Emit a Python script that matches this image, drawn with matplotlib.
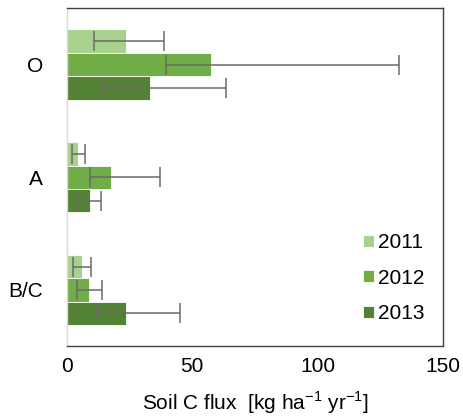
import numpy as np
import matplotlib
matplotlib.use("Agg")
import matplotlib.pyplot as plt

plt.rcParams['font.family'] = ['Liberation Sans', 'DejaVu Sans']
plt.rcParams['mathtext.fontset'] = 'custom'
plt.rcParams['mathtext.rm'] = 'Liberation Sans'

# horizons, top to bottom
horizons = ['O', 'A', 'B/C']
years = ['2011', '2012', '2013']
colors = ['#A9D18E', '#70AD47', '#548235']

# mean flux per year for O, A, B/C
flux = {
    '2011': [23.5, 4.6, 6.0],
    '2012': [57.4, 17.6, 8.8],
    '2013': [33.0, 9.2, 23.6],
}
# error bar ends (low, high)
err_low = {
    '2011': [10.7, 2.3, 2.5],
    '2012': [39.7, 9.4, 4.1],
    '2013': [14.3, 4.9, 12.1],
}
err_high = {
    '2011': [38.7, 7.3, 9.5],
    '2012': [132.2, 37.0, 13.9],
    '2013': [63.5, 13.5, 45.2],
}

fig = plt.figure(figsize=(4.63, 4.18), dpi=100)
ax = fig.add_axes([66.7 / 463, 1 - 346.3 / 418, 376.6 / 463, 338 / 418])

bh = 0.208
y = np.arange(len(horizons))
for i, yr in enumerate(years):
    vals = np.array(flux[yr])
    lo = vals - np.array(err_low[yr])
    hi = np.array(err_high[yr]) - vals
    ax.barh(y + (i - 1) * bh, vals, height=bh, color=colors[i],
            edgecolor='white', linewidth=0.6, label=yr, zorder=2)
    ax.errorbar(vals, y + (i - 1) * bh, xerr=[lo, hi], fmt='none',
                ecolor='#6a6a6a', elinewidth=1.1, capsize=7, capthick=1.1, zorder=3)

ax.set_xlim(0, 150)
ax.set_ylim(2.5, -0.5)
ax.set_xticks([0, 50, 100, 150])
ax.set_yticks(y)
ax.set_yticklabels(horizons)
ax.tick_params(axis='both', length=0, labelsize=15, colors='black')
ax.tick_params(axis='x', pad=8)
ax.tick_params(axis='y', pad=17)

for s in ['top', 'right', 'bottom']:
    ax.spines[s].set_color('#404040')
    ax.spines[s].set_linewidth(1.0)
ax.spines['left'].set_color('#d9d9d9')
ax.spines['left'].set_linewidth(1.0)

ax.set_xlabel('Soil C flux  [kg ha$^{-1}$ yr$^{-1}$]', fontsize=15, labelpad=9)

ax.legend(loc='lower right', bbox_to_anchor=(1.0, 0.012), frameon=False,
          fontsize=15, handlelength=0.5, handleheight=0.5, handletextpad=0.2,
          labelspacing=0.8)

fig.savefig('out.png', dpi=100)
